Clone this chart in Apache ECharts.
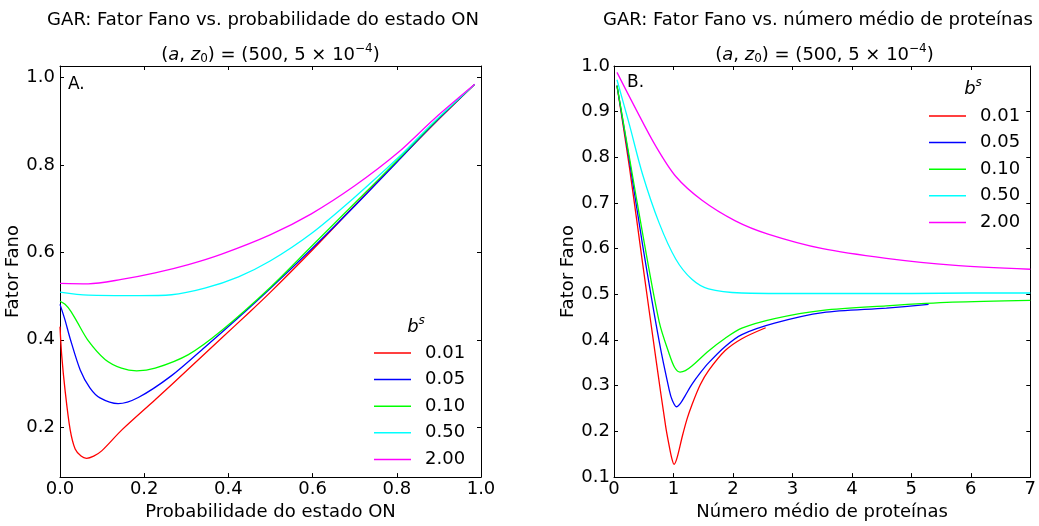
<!DOCTYPE html>
<html>
<head>
<meta charset="utf-8">
<script src="https://cdn.jsdelivr.net/npm/echarts@6/dist/echarts.min.js"></script>
<style>
html,body{margin:0;padding:0;background:#fff;}
#c{width:1039px;height:526px;}
</style>
</head>
<body>
<div id="c"></div>
<script>
// ---------- data ----------
const seriesNames = ['0.01', '0.05', '0.10', '0.50', '2.00'];
const seriesColors = ['#ff0000', '#0000ff', '#00ff00', '#00ffff', '#ff00ff'];

// Panel A: Fano factor vs. ON-state probability
const pA_red   = [0.0, 0.004, 0.012, 0.024, 0.036, 0.05, 0.063, 0.08, 0.099, 0.147, 0.226, 0.305, 0.384, 0.45, 0.5, 0.6, 0.7, 0.8, 0.89, 0.985];
const fA_red   = [0.430, 0.365, 0.285, 0.195, 0.150, 0.134, 0.129, 0.134, 0.146, 0.194, 0.263, 0.333, 0.404, 0.463, 0.509, 0.606, 0.707, 0.807, 0.895, 0.984];
const pA_blue  = [0.0, 0.012, 0.024, 0.048, 0.071, 0.095, 0.138, 0.186, 0.265, 0.344, 0.424, 0.5, 0.6, 0.7, 0.8, 0.89, 0.985];
const fA_blue  = [0.481, 0.445, 0.403, 0.331, 0.290, 0.267, 0.254, 0.268, 0.318, 0.383, 0.451, 0.518, 0.610, 0.706, 0.806, 0.896, 0.984];
const pA_green = [0.0, 0.012, 0.025, 0.04, 0.067, 0.107, 0.146, 0.182, 0.226, 0.305, 0.384, 0.5, 0.6, 0.7, 0.8, 0.89, 0.985];
const fA_green = [0.488, 0.481, 0.466, 0.442, 0.398, 0.355, 0.335, 0.329, 0.335, 0.366, 0.421, 0.520, 0.616, 0.712, 0.809, 0.898, 0.984];
const pA_cyan  = [0.0, 0.067, 0.186, 0.265, 0.344, 0.424, 0.499, 0.597, 0.700, 0.803, 0.890, 0.985];
const fA_cyan  = [0.509, 0.502, 0.501, 0.503, 0.518, 0.544, 0.580, 0.643, 0.726, 0.816, 0.900, 0.984];
const pA_mag   = [0.0, 0.067, 0.146, 0.226, 0.305, 0.384, 0.499, 0.597, 0.700, 0.803, 0.890, 0.985];
const fA_mag   = [0.529, 0.528, 0.538, 0.553, 0.572, 0.596, 0.640, 0.688, 0.752, 0.828, 0.906, 0.984];

// Panel B: Fano factor vs. mean protein number
const nB_red   = [0.05, 0.26, 0.48, 0.71, 0.87, 0.93, 0.97, 1.01, 1.06, 1.15, 1.23, 1.31, 1.45, 1.59, 1.87, 2.15, 2.55];
const fB_red   = [0.957, 0.778, 0.569, 0.354, 0.210, 0.167, 0.142, 0.128, 0.142, 0.190, 0.228, 0.258, 0.302, 0.333, 0.377, 0.403, 0.427];
const nB_blue  = [0.05, 0.26, 0.48, 0.76, 0.93, 0.98, 1.05, 1.12, 1.20, 1.31, 1.45, 1.59, 1.87, 2.15, 2.70, 3.51, 4.58, 5.29];
const fB_blue  = [0.957, 0.792, 0.609, 0.397, 0.290, 0.268, 0.254, 0.262, 0.279, 0.303, 0.328, 0.350, 0.386, 0.412, 0.437, 0.460, 0.470, 0.478];
const nB_green = [0.05, 0.26, 0.48, 0.76, 0.93, 1.02, 1.11, 1.20, 1.31, 1.59, 1.87, 2.15, 2.70, 3.51, 4.58, 5.69, 7.0];
const fB_green = [0.957, 0.799, 0.634, 0.440, 0.369, 0.340, 0.330, 0.333, 0.343, 0.376, 0.404, 0.426, 0.447, 0.465, 0.475, 0.483, 0.487];
const nB_cyan  = [0.05, 0.26, 0.48, 0.76, 1.04, 1.31, 1.59, 2.15, 3.0, 4.0, 5.0, 6.0, 7.0];
const fB_cyan  = [0.970, 0.871, 0.763, 0.656, 0.577, 0.533, 0.512, 0.503, 0.502, 0.502, 0.502, 0.503, 0.503];
const nB_mag   = [0.05, 0.37, 0.70, 1.04, 1.48, 2.04, 2.59, 3.51, 4.58, 5.69, 7.0];
const fB_mag   = [0.986, 0.905, 0.825, 0.758, 0.706, 0.661, 0.632, 0.600, 0.579, 0.564, 0.555];

const ticksA_y = [0.2, 0.4, 0.6, 0.8, 1.0];

// ---------- build ----------
const zip = (xs, ys) => xs.map((x, i) => [x, ys[i]]);
const panelA = [[pA_red, fA_red], [pA_blue, fA_blue], [pA_green, fA_green], [pA_cyan, fA_cyan], [pA_mag, fA_mag]];
const panelB = [[nB_red, fB_red], [nB_blue, fB_blue], [nB_green, fB_green], [nB_cyan, fB_cyan], [nB_mag, fB_mag]];

const FONT = 'DejaVu Sans';
const FS_TICK = 18;
const FS_NAME = 18;
const FS_TITLE = 18;
const FS_LEG = 18;
const black = '#000';

function mkSeries(panel, axisIdx) {
  return panel.map((d, i) => ({
    name: seriesNames[i],
    type: 'line',
    xAxisIndex: axisIdx, yAxisIndex: axisIdx,
    data: zip(d[0], d[1]),
    showSymbol: false, symbol: 'none',
    smooth: 0.3,
    lineStyle: { color: seriesColors[i], width: 1.3 },
    itemStyle: { color: seriesColors[i] },
    z: 3 + i,
    silent: true,
    animation: false
  }));
}

const axLine = { show: true, onZero: false, lineStyle: { color: black, width: 1 } };
function xAx(grid, pos, min, max, interval, labels) {
  return {
    type: 'value', gridIndex: grid, position: pos, min: min, max: max, interval: interval,
    axisLine: axLine,
    axisTick: { show: true, inside: true, length: 4, lineStyle: { color: black } },
    axisLabel: labels ? { show: true, color: black, fontFamily: FONT, fontSize: FS_TICK, margin: 3,
      formatter: v => (interval < 1 ? v.toFixed(1) : String(Math.round(v))) } : { show: false },
    splitLine: { show: false }
  };
}

const option = {
  backgroundColor: '#fff',
  animation: false,
  grid: [
    { left: 60, top: 66, width: 421, height: 418, containLabel: false },
    { left: 614, top: 66, width: 421, height: 418, containLabel: false }
  ],
  xAxis: [
    Object.assign(xAx(0, 'bottom', 0, 1, 0.2, true), {
      name: 'Probabilidade do estado ON', nameLocation: 'middle', nameGap: 21,
      nameTextStyle: { color: black, fontFamily: FONT, fontSize: FS_NAME } }),
    xAx(0, 'top', 0, 1, 0.2, false),
    Object.assign(xAx(1, 'bottom', 0, 7, 1, true), {
      name: 'Número médio de proteínas', nameLocation: 'middle', nameGap: 21,
      nameTextStyle: { color: black, fontFamily: FONT, fontSize: FS_NAME } }),
    xAx(1, 'top', 0, 7, 1, false)
  ],
  yAxis: [
    {
      type: 'value', gridIndex: 0, position: 'left', min: 0.086, max: 1.026,
      axisLine: axLine,
      axisTick: { show: true, inside: true, length: 4, lineStyle: { color: black }, customValues: ticksA_y },
      axisLabel: { show: true, color: black, fontFamily: FONT, fontSize: FS_TICK, margin: 5,
        customValues: ticksA_y, formatter: v => v.toFixed(1) },
      splitLine: { show: false },
      name: 'Fator Fano', nameLocation: 'middle', nameGap: 34, nameRotate: 90,
      nameTextStyle: { color: black, fontFamily: FONT, fontSize: FS_NAME }
    },
    {
      type: 'value', gridIndex: 0, position: 'right', min: 0.086, max: 1.026,
      axisLine: axLine,
      axisTick: { show: true, inside: true, length: 4, lineStyle: { color: black }, customValues: ticksA_y },
      axisLabel: { show: false, customValues: ticksA_y },
      splitLine: { show: false }
    },
    {
      type: 'value', gridIndex: 1, position: 'left', min: 0.1, max: 1.0, interval: 0.1,
      axisLine: axLine,
      axisTick: { show: true, inside: true, length: 4, lineStyle: { color: black } },
      axisLabel: { show: true, color: black, fontFamily: FONT, fontSize: FS_TICK, margin: 4,
        formatter: v => v.toFixed(1) },
      splitLine: { show: false },
      name: 'Fator Fano', nameLocation: 'middle', nameGap: 34, nameRotate: 90,
      nameTextStyle: { color: black, fontFamily: FONT, fontSize: FS_NAME }
    },
    {
      type: 'value', gridIndex: 1, position: 'right', min: 0.1, max: 1.0, interval: 0.1,
      axisLine: axLine,
      axisTick: { show: true, inside: true, length: 4, lineStyle: { color: black } },
      axisLabel: { show: false },
      splitLine: { show: false }
    }
  ],
  legend: [
    {
      data: seriesNames, orient: 'vertical', left: 374, top: 343, padding: 0,
      icon: 'rect', itemWidth: 37, itemHeight: 1.5, itemGap: 6.6, selectedMode: false,
      textStyle: { color: black, fontFamily: FONT, fontSize: FS_LEG, lineHeight: 20, padding: [0, 0, 0, 9] }
    },
    {
      data: seriesNames, orient: 'vertical', left: 929, top: 106, padding: 0,
      icon: 'rect', itemWidth: 37, itemHeight: 1.5, itemGap: 6.6, selectedMode: false,
      textStyle: { color: black, fontFamily: FONT, fontSize: FS_LEG, lineHeight: 20, padding: [0, 0, 0, 9] }
    }
  ],
  graphic: [],
  series: mkSeries(panelA, 0).concat(mkSeries(panelB, 2))
};

// titles and annotations
const rich = {
  n: { fontFamily: FONT, fontSize: FS_TITLE, fill: black },
  i: { fontFamily: FONT, fontSize: FS_TITLE, fontStyle: 'italic', fill: black },
  sub: { fontFamily: FONT, fontSize: 12, fill: black, padding: [8, 0, 0, 0] },
  sup: { fontFamily: FONT, fontSize: 12, fill: black, padding: [0, 0, 12, 0] },
  supi: { fontFamily: FONT, fontSize: 12, fontStyle: 'italic', fill: black, padding: [0, 0, 12, 0] }
};
const subTxt = '{n|(}{i|a}{n|, }{i|z}{sub|0}{n|) = (500, 5 × 10}{sup|−4}{n|)}';
function txt(x, y, text, align, fs) {
  return {
    type: 'text', x: x, y: y, silent: true, z: 100,
    style: { text: text, fill: black, font: (fs || FS_TITLE) + 'px "' + FONT + '"',
      textAlign: align || 'center', textVerticalAlign: 'middle', rich: rich }
  };
}
option.graphic = [
  txt(263, 20, 'GAR: Fator Fano vs. probabilidade do estado ON'),
  txt(270.5, 55, subTxt),
  txt(818, 20, 'GAR: Fator Fano vs. número médio de proteínas'),
  txt(824.5, 55, subTxt),
  txt(68, 85, 'A.', 'left', 17),
  txt(627, 83, 'B.', 'left', 17),
  txt(416, 327, '{i|b}{supi|s}'),
  txt(973, 89, '{i|b}{supi|s}')
];

const chart = echarts.init(document.getElementById('c'), null, { renderer: 'canvas' });
chart.setOption(option);
</script>
</body>
</html>
